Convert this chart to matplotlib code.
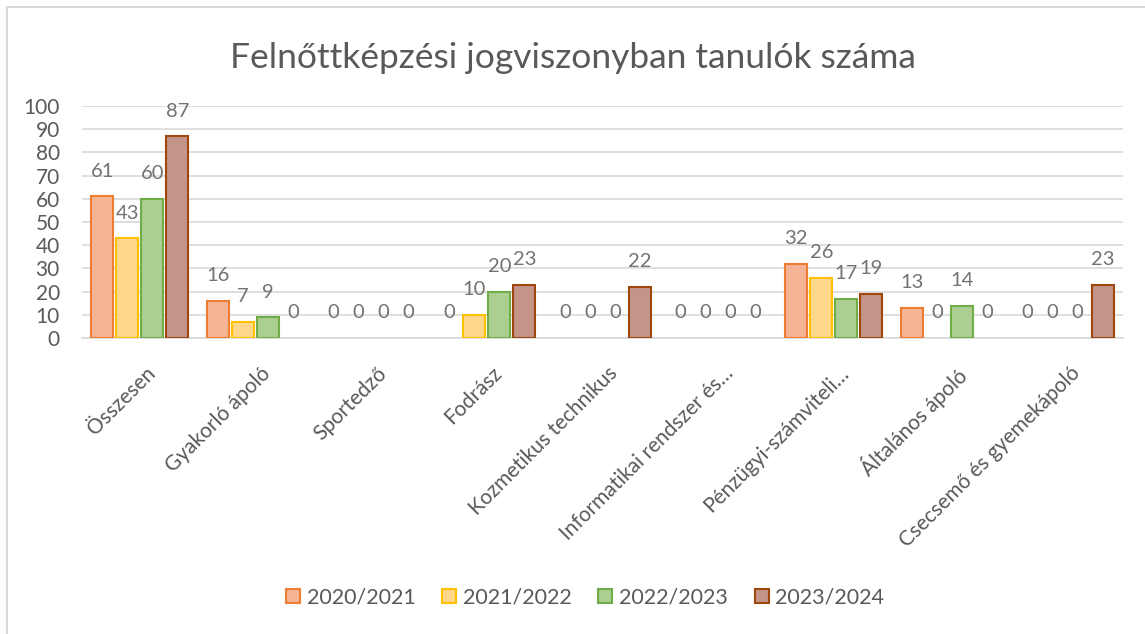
import numpy as np
import matplotlib.pyplot as plt
import matplotlib.transforms as mtransforms
from matplotlib.patches import Patch
from matplotlib.lines import Line2D

plt.rcParams['font.family'] = ['Lato', 'DejaVu Sans']

categories = ['Összesen', 'Gyakorló ápoló', 'Sportedző', 'Fodrász',
              'Kozmetikus technikus', 'Informatikai rendszer és…',
              'Pénzügyi-számviteli…', 'Általános ápoló',
              'Csecsemő és gyemekápoló']
years = ['2020/2021', '2021/2022', '2022/2023', '2023/2024']
v2020 = [61, 16, 0, 0, 0, 0, 32, 13, 0]
v2021 = [43, 7, 0, 10, 0, 0, 26, 0, 0]
v2022 = [60, 9, 0, 20, 0, 0, 17, 14, 0]
v2023 = [87, 0, 0, 23, 22, 0, 19, 0, 23]
series = [v2020, v2021, v2022, v2023]

fills = ['#F6B497', '#FFD88C', '#ABCF92', '#C49488']
edges = ['#ED7D31', '#FFC000', '#70AD47', '#9E480E']
gray = '#595959'

fig = plt.figure(figsize=(11.45, 6.34), dpi=100)
ax = fig.add_axes([0.0716, 0.4669, 0.9092, 0.3659])

x = np.arange(len(categories))
step = 0.216
for i, vals in enumerate(series):
    pos = x + (i - 1.5) * step
    lw = [1.5 if v else 0 for v in vals]
    ax.bar(pos, vals, width=0.19, color=fills[i], edgecolor=edges[i],
           linewidth=lw, zorder=3)
    for px, v in zip(pos, vals):
        ax.annotate(str(v), (px, v), xytext=(0, 18), textcoords='offset points',
                    ha='center', va='center', fontsize=14.5, color='#767171')

ax.set_xlim(-0.5, len(categories) - 0.5)
ax.set_ylim(0, 100)
ax.set_yticks(range(0, 101, 10))
ax.yaxis.grid(True, color='#D9D9D9', linewidth=1.2, zorder=0)
ax.tick_params(axis='y', length=0, labelsize=15, labelcolor=gray, pad=16)
ax.tick_params(axis='x', length=0, labelsize=15, labelcolor=gray, pad=18)
ax.set_xticks(x)
ax.set_xticklabels(categories, rotation=45, ha='right', rotation_mode='anchor')
# nudge the slanted labels a little to the right
shift = mtransforms.ScaledTranslation(5 / 100, 0, fig.dpi_scale_trans)
for lbl in ax.get_xticklabels():
    lbl.set_transform(lbl.get_transform() + shift)
for s in ['top', 'right', 'left']:
    ax.spines[s].set_visible(False)
ax.spines['bottom'].set_color('#D9D9D9')
ax.spines['bottom'].set_linewidth(1.2)

fig.text(0.5, 0.908, 'Felnőttképzési jogviszonyban tanulók száma',
         ha='center', va='center', fontsize=25.5, color=gray)

handles = [Patch(facecolor=fills[i], edgecolor=edges[i], linewidth=1.5)
           for i in range(4)]
fig.legend(handles, years, loc='center', bbox_to_anchor=(0.511, 0.057), ncol=4,
           frameon=False, fontsize=15.5, labelcolor=gray, handlelength=0.65,
           handleheight=0.65, handletextpad=0.3, columnspacing=1.25)

fig.add_artist(Line2D([7 / 1145, 1], [1 - 7 / 634, 1 - 7 / 634],
                      color='#D9D9D9', linewidth=1.5))
fig.add_artist(Line2D([7 / 1145, 7 / 1145], [0, 1 - 7 / 634],
                      color='#D9D9D9', linewidth=1.5))

fig.savefig('out.png', dpi=100, facecolor='white')
